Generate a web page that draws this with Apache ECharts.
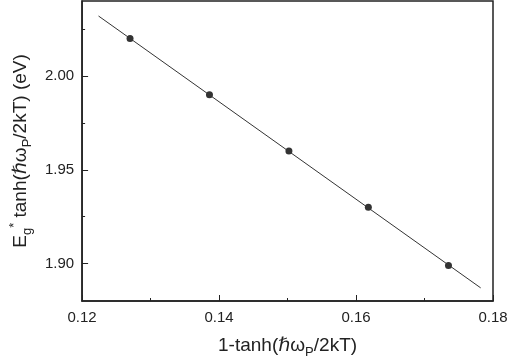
<!DOCTYPE html>
<html>
<head>
<meta charset="utf-8">
<script src="https://cdn.jsdelivr.net/npm/echarts@6/dist/echarts.min.js"></script>
<style>
  html, body { margin: 0; padding: 0; background: #fff; }
  #chart { width: 520px; height: 364px; }
</style>
</head>
<body>
<div id="chart"></div>
<script>
// measured points
const xData = [0.1270, 0.1386, 0.1502, 0.1618, 0.1735];
const yData = [2.020, 1.990, 1.960, 1.930, 1.899];
// linear fit drawn through the points
const fitX = [0.1224, 0.1782];
const fitY = [2.032, 1.887];
const xTicks = [0.12, 0.14, 0.16, 0.18];
const xMinor = [0.13, 0.15, 0.17];
const yTicks = [1.90, 1.95, 2.00];
const yMinor = [1.925, 1.975, 2.025];

const font = '"Liberation Sans", Arial, "DejaVu Sans", sans-serif';
const ink = '#222';

const chart = echarts.init(document.getElementById('chart'));

const baseAxis = {
    axisLine: { show: true, onZero: false, lineStyle: { color: ink, width: 1.5 } },
    splitLine: { show: false }
};

chart.setOption({
    animation: false,
    grid: {
        left: 76, right: 27, top: 1, bottom: 59,
        show: true, borderColor: ink, borderWidth: 1.5
    },
    xAxis: [{
        ...baseAxis,
        type: 'value', min: 0.12, max: 0.18,
        axisTick: { inside: true, length: 6, customValues: xTicks, lineStyle: { color: ink } },
        axisLabel: {
            customValues: xTicks, margin: 9, color: ink, fontSize: 15, fontFamily: font,
            formatter: v => v.toFixed(2)
        },
        name: '{b|1-tanh(ℏω}{sub|P}{b|/2kT)}',
        nameLocation: 'middle', nameGap: 32,
        nameTextStyle: {
            fontFamily: font, color: ink, fontSize: 19, lineHeight: 26,
            rich: {
                b: { fontSize: 19, fontFamily: font, color: ink },
                sub: { fontSize: 13, fontFamily: font, color: ink, verticalAlign: 'bottom' }
            }
        }
    }, {
        type: 'value', min: 0.12, max: 0.18, position: 'bottom',
        axisLine: { show: false }, splitLine: { show: false }, axisLabel: { show: false },
        axisTick: { inside: true, length: 3, customValues: xMinor, lineStyle: { color: ink } }
    }],
    yAxis: [{
        ...baseAxis,
        type: 'value', min: 1.88, max: 2.04,
        axisTick: { inside: true, length: 6, customValues: yTicks, lineStyle: { color: ink } },
        axisLabel: {
            customValues: yTicks, margin: 8, color: ink, fontSize: 15, fontFamily: font,
            formatter: v => v.toFixed(2)
        },
        name: '{b|E}{sub|g}{sup|*}{b| tanh(ℏω}{sub|P}{b|/2kT) (eV)}',
        nameLocation: 'middle', nameGap: 40, nameRotate: 90,
        nameTextStyle: {
            fontFamily: font, color: ink, fontSize: 19, lineHeight: 26,
            rich: {
                b: { fontSize: 19, fontFamily: font, color: ink },
                sub: { fontSize: 13, fontFamily: font, color: ink, verticalAlign: 'bottom' },
                sup: { fontSize: 13, fontFamily: font, color: ink, verticalAlign: 'top' }
            }
        }
    }, {
        type: 'value', min: 1.88, max: 2.04, position: 'left',
        axisLine: { show: false }, splitLine: { show: false }, axisLabel: { show: false },
        axisTick: { inside: true, length: 3, customValues: yMinor, lineStyle: { color: ink } }
    }],
    series: [{
        type: 'line',
        data: fitX.map((x, i) => [x, fitY[i]]),
        symbol: 'none',
        lineStyle: { color: '#333', width: 1 }
    }, {
        type: 'scatter',
        data: xData.map((x, i) => [x, yData[i]]),
        symbol: 'circle', symbolSize: 7,
        itemStyle: { color: '#000' }
    }]
});
</script>
</body>
</html>
